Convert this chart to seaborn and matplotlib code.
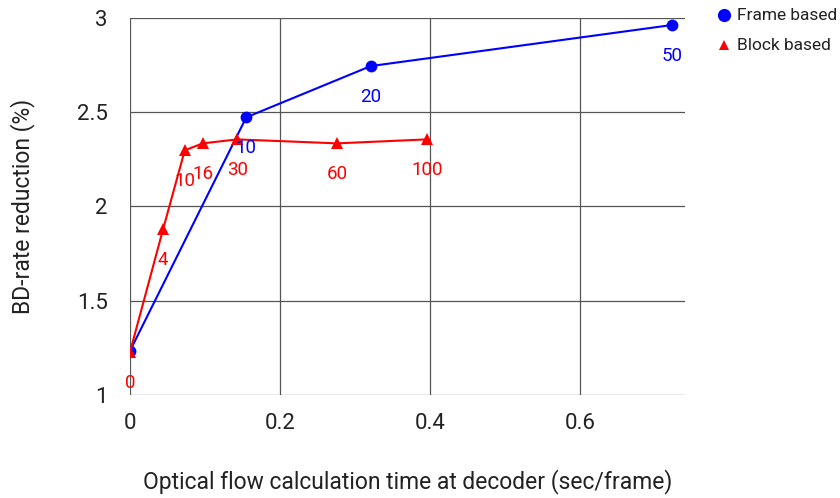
import matplotlib
matplotlib.use("Agg")
import matplotlib.pyplot as plt
import seaborn as sns
import pandas as pd
from matplotlib.lines import Line2D

frame_x = [0.0, 0.155, 0.321, 0.723]
frame_y = [1.234, 2.473, 2.745, 2.963]
frame_labels = ["", "10", "20", "50"]

block_x = [0.0, 0.044, 0.073, 0.097, 0.143, 0.276, 0.396]
block_y = [1.228, 1.878, 2.298, 2.335, 2.356, 2.335, 2.356]
block_labels = ["0", "4", "10", "16", "30", "60", "100"]

x_ticks = [0, 0.2, 0.4, 0.6]
x_tick_labels = ["0", "0.2", "0.4", "0.6"]
y_ticks = [1, 1.5, 2, 2.5, 3]
y_tick_labels = ["1", "1.5", "2", "2.5", "3"]

sns.set_style("white")
plt.rcParams["font.family"] = ["Roboto", "DejaVu Sans"]

df = pd.concat([
    pd.DataFrame({"x": frame_x, "y": frame_y, "series": "Frame based"}),
    pd.DataFrame({"x": block_x, "y": block_y, "series": "Block based"}),
])

fig = plt.figure(figsize=(8.4, 4.98), dpi=100)
ax = fig.add_axes([130 / 840, 1 - 395 / 498, 555 / 840, 377 / 498])

palette = {"Frame based": "#0000ff", "Block based": "#ff0000"}
sns.lineplot(data=df, x="x", y="y", hue="series", style="series",
             markers={"Frame based": "o", "Block based": "^"}, dashes=False,
             palette=palette, sort=False, estimator=None, ax=ax,
             linewidth=1.5, markersize=8.5, markeredgewidth=0, legend=False)

for xv, yv, lab in zip(frame_x, frame_y, frame_labels):
    if lab:
        ax.annotate(lab, (xv, yv), xytext=(0, -22), textcoords="offset points",
                    ha="center", va="center", color="#0000ff", fontsize=13.5)
for xv, yv, lab in zip(block_x, block_y, block_labels):
    ax.annotate(lab, (xv, yv), xytext=(0, -22), textcoords="offset points",
                ha="center", va="center", color="#ff0000", fontsize=13.5)

ax.set_xlim(0.0, 0.74)
ax.set_ylim(1, 3)
ax.set_xticks(x_ticks)
ax.set_xticklabels(x_tick_labels)
ax.set_yticks(y_ticks)
ax.set_yticklabels(y_tick_labels)
ax.grid(True, color="#555555", linewidth=0.9)
for s in ax.spines.values():
    s.set_visible(False)
ax.tick_params(axis="y", length=11, color="#555555", width=0.9, labelsize=16,
               labelcolor="#222222", pad=5)
ax.tick_params(axis="x", length=0, pad=13, labelsize=16, labelcolor="#222222")
ax.set_xlabel("Optical flow calculation time at decoder (sec/frame)", fontsize=16.5,
              color="#222222", labelpad=25)
ax.set_ylabel("BD-rate reduction (%)", fontsize=16.5, color="#222222", labelpad=30)

# legend (outside, top right)
legend_items = [("Frame based", "o", "#0000ff", 9.5, 15),
                ("Block based", "^", "#ff0000", 7.5, 45)]
for text, marker, color, ms, ypix in legend_items:
    yf = 1 - ypix / 498
    fig.add_artist(Line2D([724 / 840], [yf], marker=marker, color=color,
                          linestyle="none", markersize=ms, markeredgewidth=0,
                          transform=fig.transFigure))
    fig.text(737 / 840, yf, text, ha="left", va="center", fontsize=12.5,
             color="#222222")

fig.savefig("out.png", dpi=100)
